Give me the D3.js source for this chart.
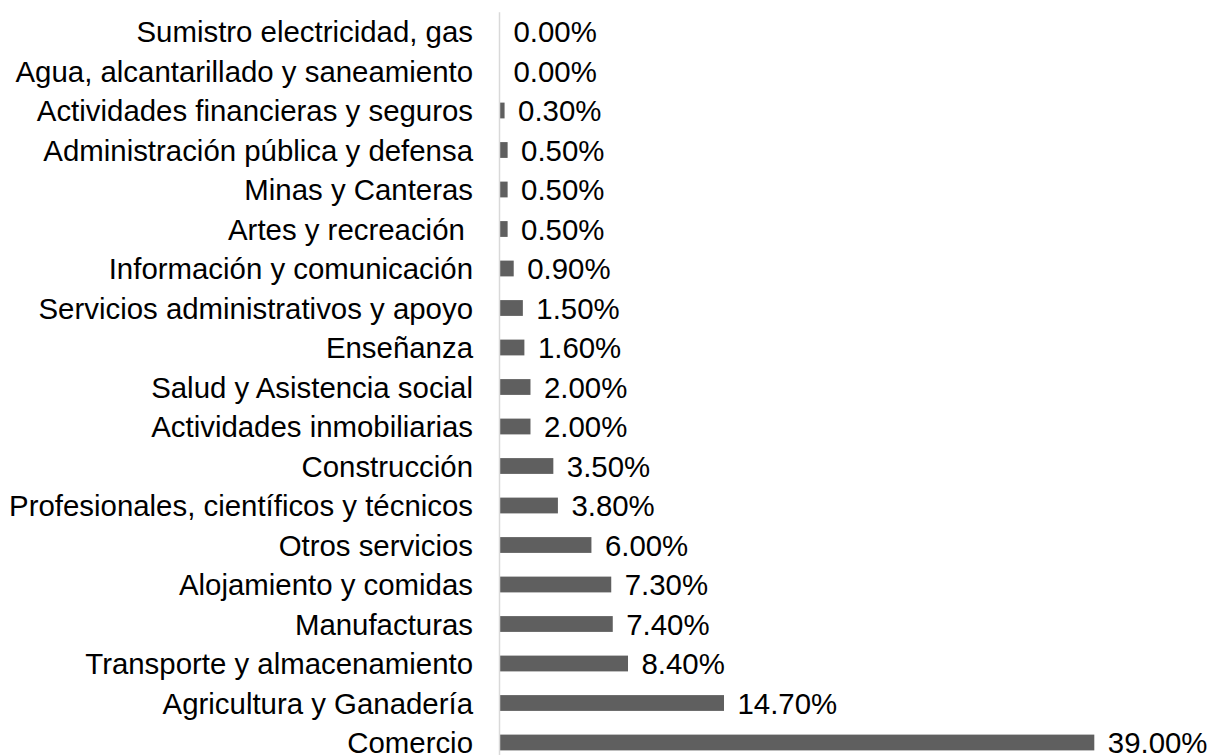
<!DOCTYPE html>
<html><head><meta charset="utf-8">
<script src="https://cdn.jsdelivr.net/npm/d3@7"></script>
<style>body{margin:0;background:#fff}svg{display:block}</style>
</head><body>
<svg id="c" width="1211" height="755"></svg>
<script>
const categories = [
  "Sumistro electricidad, gas",
  "Agua, alcantarillado y saneamiento",
  "Actividades financieras y seguros",
  "Administración pública y defensa",
  "Minas y Canteras",
  "Artes y recreación ",
  "Información y comunicación",
  "Servicios administrativos y apoyo",
  "Enseñanza",
  "Salud y Asistencia social",
  "Actividades inmobiliarias",
  "Construcción",
  "Profesionales, científicos y técnicos",
  "Otros servicios",
  "Alojamiento y comidas",
  "Manufacturas",
  "Transporte y almacenamiento",
  "Agricultura y Ganadería",
  "Comercio"
];
const values = [0, 0, 0.3, 0.5, 0.5, 0.5, 0.9, 1.5, 1.6, 2.0, 2.0, 3.5, 3.8, 6.0, 7.3, 7.4, 8.4, 14.7, 39.0];

const svg = d3.select("#c");
const font = "Liberation Sans, Arial, sans-serif";
const fs = 29.4;

const y = d3.scaleBand().domain(categories).range([11.75, 762.25]).paddingInner(0.6).paddingOuter(0.3);
const x = d3.scaleLinear().domain([0, d3.max(values)]).range([500, 1094.3]);

svg.selectAll("rect.bar").data(categories).join("rect")
  .attr("class","bar")
  .attr("x", x(0))
  .attr("y", d => y(d))
  .attr("width", (d,i) => x(values[i]) - x(0))
  .attr("height", y.bandwidth())
  .attr("fill", "#5f5f5f");

const ax = svg.append("g").attr("transform", `translate(${499},0)`)
  .call(d3.axisLeft(y).tickSize(0).tickPadding(26).tickSizeOuter(0));
ax.select(".domain").attr("stroke", "#d9d9d9").attr("stroke-width", 1.5);
ax.selectAll("text").attr("font-family", font).attr("font-size", fs).attr("fill", "#000")
  .style("white-space", "pre").attr("dy", "0.36em");

svg.selectAll("text.val").data(categories).join("text")
  .attr("class","val")
  .attr("x", (d,i) => x(values[i]) + 13.5)
  .attr("y", d => y(d) + y.bandwidth()/2)
  .attr("dy", "0.37em")
  .attr("font-family", font).attr("font-size", fs).attr("fill", "#000")
  .text((d,i) => values[i].toFixed(2) + "%");
</script>
</body></html>
